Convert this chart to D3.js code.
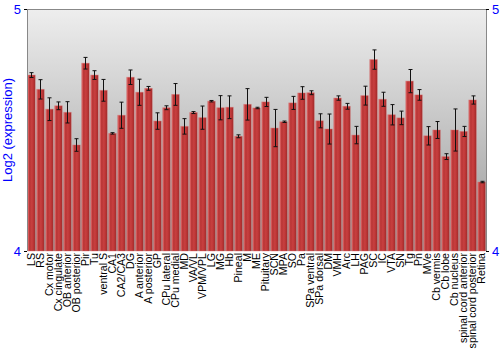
<!DOCTYPE html>
<html><head><meta charset="utf-8">
<script src="https://cdn.jsdelivr.net/npm/d3@7"></script>
<style>body{margin:0;background:#fff}svg{display:block}</style>
</head><body><svg id="c" width="500" height="350"></svg>
<script>
const categories = ["LS","RS","Cx motor","Cx cingulate","OB anterior","OB posterior","Pir","Tu","ventral S","CA1","CA2/CA3","DG","A anterior","A posterior","GP","CPu lateral","CPu medial","MD","VA/VL","VPM/VPL","LG","MG","Hb","Pineal","M","ME","Pituitary","SCN","MPA","SO","Pa","SPa ventral","SPa dorsal","DM","VMH","Arc","LH","PAG","SC","IC","VTA","SN","Tg","Pn","MVe","Cb vermis","Cb lobe","Cb nucleus","spinal cord anterior","spinal cord posterior","Retina"];
const values = [4.727,4.668,4.586,4.600,4.573,4.438,4.776,4.727,4.664,4.486,4.561,4.718,4.656,4.672,4.537,4.592,4.647,4.515,4.572,4.551,4.619,4.592,4.594,4.474,4.606,4.591,4.616,4.508,4.534,4.612,4.653,4.654,4.538,4.504,4.632,4.598,4.479,4.642,4.791,4.627,4.563,4.550,4.702,4.645,4.476,4.500,4.390,4.500,4.494,4.624,4.285];
const errors = [0.010,0.040,0.047,0.016,0.044,0.026,0.024,0.018,0.045,0.003,0.054,0.030,0.054,0.008,0.034,0.008,0.045,0.032,0.004,0.048,0.003,0.050,0.047,0.006,0.065,0.003,0.019,0.077,0.003,0.027,0.026,0.008,0.029,0.062,0.009,0.012,0.036,0.039,0.040,0.029,0.042,0.028,0.048,0.022,0.038,0.035,0.012,0.087,0.021,0.017,0.003];
const yTicks = [4,5];

const svg = d3.select("#c");
const L = 27, R = 486, T = 9, B = 251;
const x = d3.scaleBand().domain(categories).range([L, R]).paddingInner(0.17).paddingOuter(0.08);
const y = d3.scaleLinear().domain([4,5]).range([B, T]);

const defs = svg.append("defs");
const bg = defs.append("linearGradient").attr("id","bg").attr("x1",0).attr("y1",0).attr("x2",0).attr("y2",1);
bg.append("stop").attr("offset","0%").attr("stop-color","#eeeeee");
bg.append("stop").attr("offset","100%").attr("stop-color","#999999");
const bg2 = defs.append("linearGradient").attr("id","bar").attr("x1",0).attr("y1",0).attr("x2",1).attr("y2",0);
[["0%","#c04848"],["12%","#d85a5a"],["25%","#b83434"],["55%","#c84040"],["85%","#b53030"],["100%","#8c2222"]].forEach(s=>bg2.append("stop").attr("offset",s[0]).attr("stop-color",s[1]));

svg.append("rect").attr("x",L).attr("y",T).attr("width",R-L).attr("height",B-T).attr("fill","url(#bg)");

// bars
svg.append("g").selectAll("rect").data(categories).join("rect")
  .attr("x",d=>x(d)).attr("width",x.bandwidth())
  .attr("y",(d,i)=>y(values[i])).attr("height",(d,i)=>B-y(values[i]))
  .attr("fill","url(#bar)").attr("stroke","rgba(220,110,110,0.5)").attr("stroke-width",0.8);

// error bars
const eg = svg.append("g").attr("stroke","#111").attr("stroke-width",1);
categories.forEach((c,i)=>{
  const cx = Math.round(x(c)+x.bandwidth()/2)+0.5;
  const y1 = y(values[i]+errors[i]), y2 = y(values[i]-errors[i]);
  eg.append("line").attr("x1",cx).attr("x2",cx).attr("y1",y1).attr("y2",y2);
  eg.append("line").attr("x1",cx-2).attr("x2",cx+2).attr("y1",y1).attr("y2",y1);
  eg.append("line").attr("x1",cx-2).attr("x2",cx+2).attr("y1",y2).attr("y2",y2);
});

// frame
svg.append("line").attr("x1",L).attr("x2",R).attr("y1",T+0.5).attr("y2",T+0.5).attr("stroke","#888");
svg.append("line").attr("x1",L+0.5).attr("x2",L+0.5).attr("y1",T).attr("y2",B).attr("stroke","#888");
svg.append("line").attr("x1",R+0.5).attr("x2",R+0.5).attr("y1",T).attr("y2",B).attr("stroke","#888");

// axes
const la = svg.append("g").attr("transform",`translate(${L},0)`).call(d3.axisLeft(y).tickValues(yTicks).tickFormat(d3.format("d")).tickSize(3).tickPadding(3));
const ra = svg.append("g").attr("transform",`translate(${R},0)`).call(d3.axisRight(y).tickValues(yTicks).tickFormat(d3.format("d")).tickSize(3).tickPadding(3));
[la,ra].forEach(a=>{
  a.select(".domain").remove();
  a.selectAll("line").attr("stroke","#000");
  a.selectAll("text").attr("fill","#0000ff").style("font-family","Liberation Sans, Arial, sans-serif").style("font-size","13px");
});

// x labels
svg.append("g").selectAll("text").data(categories).join("text")
  .attr("transform",d=>`translate(${x(d)+x.bandwidth()/2+3.7},${B+2}) rotate(-90)`)
  .attr("text-anchor","end")
  .style("font-family","Liberation Sans, Arial, sans-serif").style("font-size","10.6px").attr("fill","#000")
  .text(d=>d);

svg.append("text").attr("transform",`translate(12,${(T+B)/2}) rotate(-90)`)
  .attr("text-anchor","middle").attr("fill","#0000ff")
  .style("font-family","Liberation Sans, Arial, sans-serif").style("font-size","13px")
  .text("Log2 (expression)");
</script></body></html>
